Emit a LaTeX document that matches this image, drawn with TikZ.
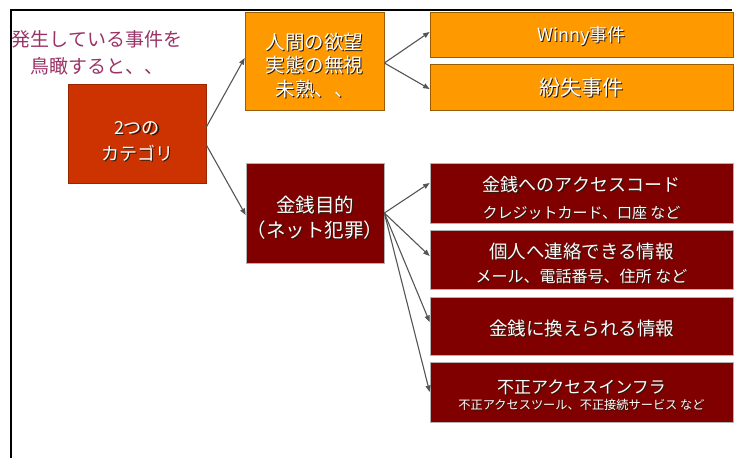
\documentclass[tikz,border=0pt]{standalone}
\usepackage{fontspec}
\setmainfont{Noto Sans CJK JP}
\usetikzlibrary{arrows.meta}
\definecolor{catc}{HTML}{CC3300}
\definecolor{orgc}{HTML}{FF9900}
\definecolor{dredc}{HTML}{800000}
\definecolor{ttlc}{HTML}{993366}
\definecolor{arrc}{HTML}{555555}
\definecolor{shdc}{HTML}{2A1A10}
\newcommand\shtx[1]{\makebox[0pt][l]{\hspace{1.1pt}\raisebox{-1.1pt}{\textcolor{shdc}{#1}}}#1}
\newcommand\fs[2]{\fontsize{#1}{#2}\selectfont}
\begin{document}
\begin{tikzpicture}[x=1pt,y=-1pt,
  boxbase/.style={inner sep=0pt, line width=0.7pt},
  catbox/.style={boxbase, fill=catc, draw=catc!75!black},
  orgbox/.style={boxbase, fill=orgc, draw=orgc!60!black},
  redbox/.style={boxbase, fill=dredc, draw=gray!60},
  txt/.style={inner sep=0pt, text=white, align=center},
  conn/.style={draw=arrc, line width=1.1pt, -{Triangle[length=6.5pt,width=5pt]}}]
\useasboundingbox (0,0) rectangle (741,458);
\draw[line width=2.2pt] (11,458) -- (11,10) -- (732,10);

\node[text=ttlc, align=center, font=\fs{19}{27}] (ttl) at (97,52.5) {発生している事件を\\鳥瞰すると、、};

% boxes
\node[catbox, minimum width=138, minimum height=99] (cat) at (137,133.5) {};
\node[orgbox, minimum width=139, minimum height=98] (hum) at (314.5,61) {};
\node[orgbox, minimum width=303, minimum height=45] (winny) at (581.5,34.5) {};
\node[orgbox, minimum width=303, minimum height=46] (lost) at (581.5,87) {};
\node[redbox, minimum width=138, minimum height=100] (money) at (315,213) {};
\node[redbox, minimum width=303, minimum height=60] (ra) at (581.5,193) {};
\node[redbox, minimum width=303, minimum height=59] (rb) at (581.5,259.5) {};
\node[redbox, minimum width=303, minimum height=58] (rc) at (581.5,326) {};
\node[redbox, minimum width=303, minimum height=60] (rd) at (581.5,392) {};

% texts
\node[txt, font=\fs{18}{26}] (cat-t) at ([yshift=-8pt]cat.center) {\shtx{2つの}\\\shtx{カテゴリ}};
\node[txt, font=\fs{19.5}{23.5}] (hum-t) at ([yshift=-5pt]hum.center) {\shtx{人間の欲望}\\\shtx{実態の無視}\\\shtx{未熟、、}};
\node[txt, font=\fs{18}{22}] (winny-t) at ([yshift=-2pt]winny.center) {\shtx{Winny事件}};
\node[txt, font=\fs{21}{22}] (lost-t) at ([yshift=-1pt]lost.center) {\shtx{紛失事件}};
\node[txt, font=\fs{19.5}{25}] (money-t) at ([yshift=-5.5pt]money.center) {\shtx{金銭目的}\\\shtx{（ネット犯罪）}};
\node[txt, font=\fs{15}{27}] (ra-t) at ([yshift=-5.5pt]ra.center) {{\fs{18}{27}\shtx{金銭へのアクセスコード}}\\{\fs{15}{27}\shtx{クレジットカード、口座 など}}};
\node[txt, font=\fs{16}{24}] (rb-t) at ([yshift=-4pt]rb.center) {{\fs{18.5}{24}\shtx{個人へ連絡できる情報}}\\{\fs{16}{24}\shtx{メール、電話番号、住所 など}}};
\node[txt, font=\fs{18.5}{22}] (rc-t) at ([yshift=-3pt]rc.center) {\shtx{金銭に換えられる情報}};
\node[txt, font=\fs{12.2}{16}] (rd-t) at ([yshift=-4pt]rd.center) {{\fs{17}{16}\shtx{不正アクセスインフラ}}\\{\fs{12.2}{16}\shtx{不正アクセスツール、不正接続サービス など}}};

% connectors
\draw[conn] ([yshift=6.5pt]cat.east) -- ([yshift=3pt]hum.west);
\draw[conn] ([yshift=-11.5pt]cat.east) -- ([yshift=-2pt]money.west);
\draw[conn] ([yshift=-2pt]hum.east) -- ([yshift=2.5pt]winny.west);
\draw[conn] ([yshift=-2pt]hum.east) -- ([yshift=-2pt]lost.west);
\draw[conn] (money.east) -- ([yshift=10pt]ra.west);
\draw[conn] (money.east) -- ([yshift=3.5pt]rb.west);
\draw[conn] (money.east) -- ([yshift=4pt]rc.west);
\draw[conn] (money.east) -- (rd.west);
\end{tikzpicture}
\end{document}
